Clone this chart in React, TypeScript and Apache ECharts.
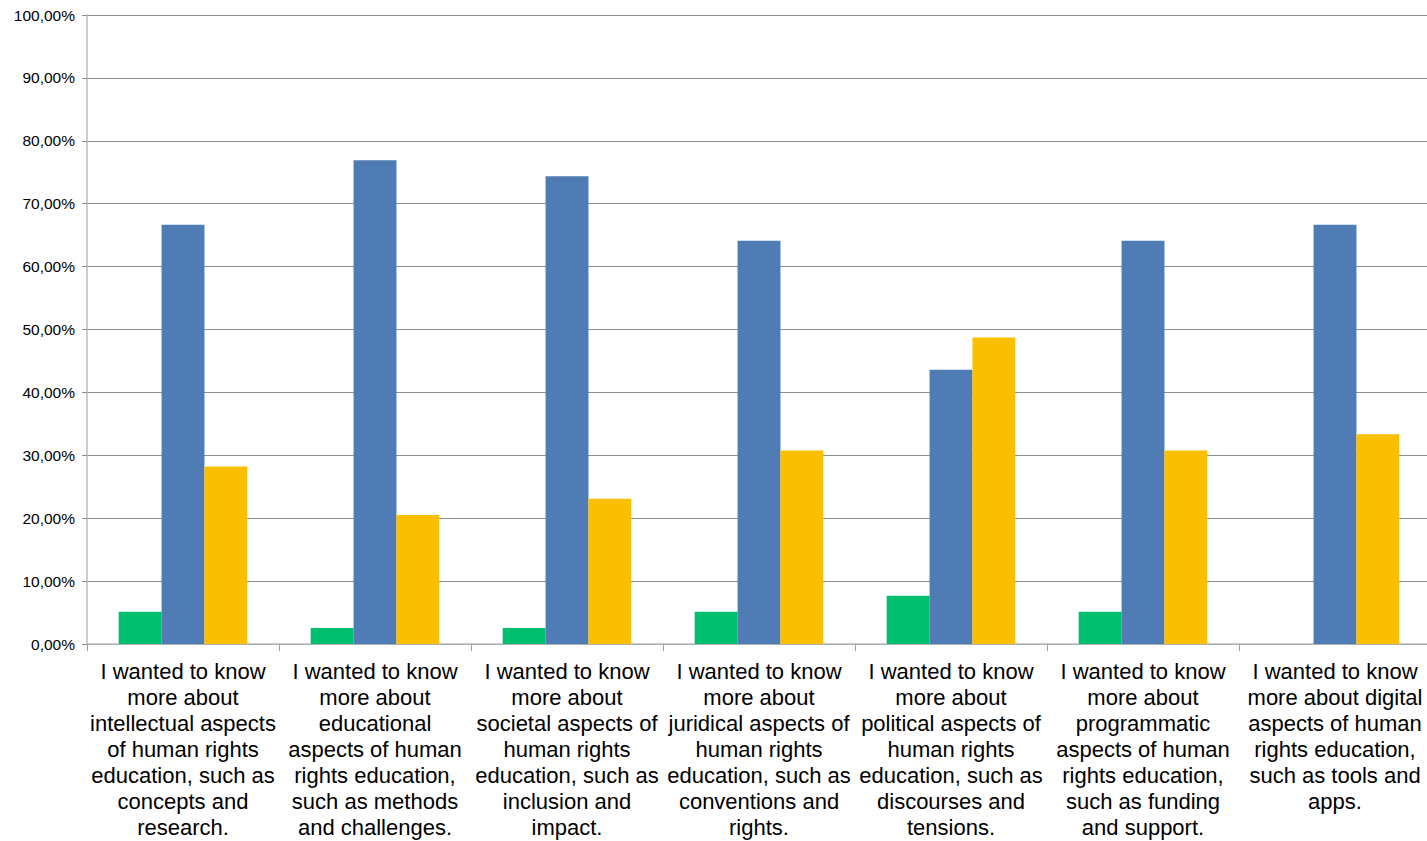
import React, { useEffect, useRef } from "react";
import * as echarts from "echarts";

const categories: string[] = [
  "I wanted to know\nmore about\nintellectual aspects\nof human rights\neducation, such as\nconcepts and\nresearch.",
  "I wanted to know\nmore about\neducational\naspects of human\nrights education,\nsuch as methods\nand challenges.",
  "I wanted to know\nmore about\nsocietal aspects of\nhuman rights\neducation, such as\ninclusion and\nimpact.",
  "I wanted to know\nmore about\njuridical aspects of\nhuman rights\neducation, such as\nconventions and\nrights.",
  "I wanted to know\nmore about\npolitical aspects of\nhuman rights\neducation, such as\ndiscourses and\ntensions.",
  "I wanted to know\nmore about\nprogrammatic\naspects of human\nrights education,\nsuch as funding\nand support.",
  "I wanted to know\nmore about digital\naspects of human\nrights education,\nsuch as tools and\napps.",
];

// Shares of respondents (%) per answer group
const greenValues: number[] = [5.13, 2.56, 2.56, 5.13, 7.69, 5.13, 0];
const blueValues: number[] = [66.67, 76.92, 74.36, 64.1, 43.59, 64.1, 66.67];
const yellowValues: number[] = [28.21, 20.51, 23.08, 30.77, 48.72, 30.77, 33.33];

const seriesColors = ["#00BF6F", "#4F7CB4", "#F9BF00"];

export default function App() {
  const ref = useRef<HTMLDivElement>(null);

  useEffect(() => {
    if (!ref.current) return;
    const chart = echarts.init(ref.current, null, { renderer: "svg" });
    const font = "'Liberation Sans', Arial, sans-serif";
    const mkSeries = (data: number[], color: string) => ({
      type: "bar" as const,
      data,
      barGap: "0%",
      barCategoryGap: "33%",
      itemStyle: { color },
    });
    chart.setOption({
      animation: false,
      backgroundColor: "#ffffff",
      grid: { left: 87, right: 0, top: 15, bottom: 197, containLabel: false },
      xAxis: {
        type: "category",
        data: categories,
        axisLine: { show: true, lineStyle: { color: "#BDBDBD", width: 1.5 } },
        axisTick: { show: true, length: 7, lineStyle: { color: "#A0A0A0" } },
        axisLabel: {
          interval: 0,
          margin: 14,
          color: "#000000",
          fontFamily: font,
          fontSize: 22,
          lineHeight: 26,
          align: "center",
        },
      },
      yAxis: {
        type: "value",
        min: 0,
        max: 100,
        interval: 10,
        axisLine: { show: true, lineStyle: { color: "#BDBDBD", width: 1.5 } },
        axisTick: { show: true, length: 5, lineStyle: { color: "#8C8C8C" } },
        splitLine: { show: true, lineStyle: { color: "#8C8C8C", width: 1 } },
        axisLabel: {
          margin: 12,
          color: "#000000",
          fontFamily: font,
          fontSize: 15.5,
          formatter: (v: number) => v.toFixed(2).replace(".", ",") + "%",
        },
      },
      series: [
        mkSeries(greenValues, seriesColors[0]),
        mkSeries(blueValues, seriesColors[1]),
        mkSeries(yellowValues, seriesColors[2]),
      ],
    });
    return () => chart.dispose();
  }, []);

  // The plot runs slightly past the right edge of the window, so the chart box is 1431px wide.
  return (
    <div
      ref={ref}
      style={{ position: "fixed", left: 0, top: 0, width: 1431, height: 841, background: "#fff" }}
    />
  );
}
